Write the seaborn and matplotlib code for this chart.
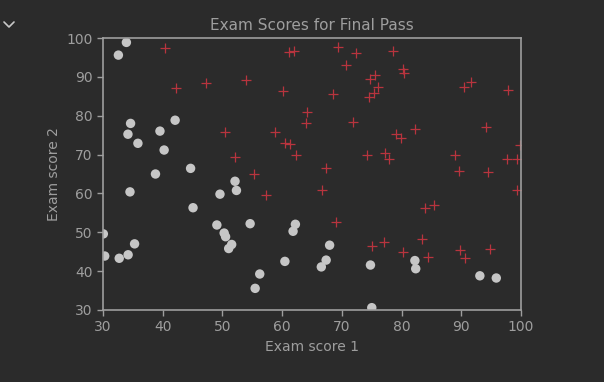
import matplotlib
matplotlib.use("Agg")
import matplotlib.pyplot as plt
import seaborn as sns
import pandas as pd
from matplotlib.lines import Line2D

# Admitted (plus markers)
admitted_x = [60.18, 79.03, 61.11, 75.02, 76.10, 84.43, 82.31, 69.36, 53.97, 69.07,
              70.66, 76.98, 89.68, 77.92, 62.27, 80.19, 61.38, 85.40, 52.05, 64.18,
              83.90, 94.44, 77.19, 97.77, 62.07, 91.56, 79.94, 99.27, 90.55, 97.65,
              74.25, 71.80, 75.40, 40.46, 80.28, 66.75, 64.04, 72.35, 60.46, 58.84,
              99.83, 47.26, 50.46, 88.91, 94.83, 67.32, 57.24, 80.37, 68.47, 75.48,
              78.64, 94.09, 90.45, 74.49, 89.85, 83.49, 42.26, 99.32, 55.34, 74.78]
admitted_y = [86.31, 75.34, 96.51, 46.55, 87.42, 43.53, 76.48, 97.72, 89.21, 52.74,
              92.93, 47.58, 65.80, 68.97, 69.95, 44.82, 72.81, 57.05, 69.43, 80.91,
              56.31, 65.57, 70.46, 86.73, 96.77, 88.70, 74.16, 61.00, 43.39, 68.86,
              69.82, 78.45, 85.76, 97.54, 92.12, 60.99, 78.03, 96.23, 73.09, 75.86,
              72.37, 88.48, 75.81, 69.80, 45.69, 66.59, 59.51, 90.96, 85.59, 90.42,
              96.65, 77.16, 87.51, 84.85, 45.36, 48.38, 87.10, 68.78, 64.93, 89.53]

# Not admitted (circle markers)
rejected_x = [34.62, 30.29, 35.85, 45.08, 95.86, 75.01, 39.54, 67.95, 67.37, 50.53,
              34.21, 93.11, 61.83, 38.79, 52.11, 40.24, 54.64, 33.92, 74.79, 34.18,
              51.55, 82.37, 51.05, 62.22, 34.52, 50.29, 49.59, 32.58, 35.29, 56.25,
              30.06, 44.67, 66.56, 49.07, 32.72, 60.46, 82.23, 42.08, 52.35, 55.48]
rejected_y = [78.02, 43.89, 72.90, 56.32, 38.23, 30.60, 76.04, 46.68, 42.84, 48.86,
              44.21, 38.80, 50.26, 65.00, 63.13, 71.17, 52.21, 98.87, 41.57, 75.24,
              46.86, 40.62, 45.82, 52.06, 60.40, 49.80, 59.81, 95.60, 47.02, 39.26,
              49.59, 66.45, 41.09, 51.88, 43.31, 42.51, 42.72, 78.84, 60.77, 35.57]

BG = "#2b2b2b"
FG = "#9e9e9e"

sns.set_style("dark", {"axes.facecolor": BG, "figure.facecolor": BG})
plt.rcParams.update({
    "font.family": ["DejaVu Sans"],
    "text.color": FG, "axes.labelcolor": FG,
    "xtick.color": FG, "ytick.color": FG,
    "axes.edgecolor": FG,
})

fig = plt.figure(figsize=(6.04, 3.82), dpi=100, facecolor=BG)
ax = fig.add_axes([0.1705, 0.1885, 0.8626 - 0.1705, 0.9005 - 0.1885])
ax.set_facecolor(BG)

df_a = pd.DataFrame({"x": admitted_x, "y": admitted_y})
df_r = pd.DataFrame({"x": rejected_x, "y": rejected_y})

sns.scatterplot(data=df_r, x="x", y="y", ax=ax, marker="o", s=46,
                color="#c6c6c6", edgecolor="none", linewidth=0)
sns.scatterplot(data=df_a, x="x", y="y", ax=ax, marker="+", s=42,
                color="#b8343e", linewidth=0.9)

ax.set_xlim(30, 100)
ax.set_ylim(30, 100)
ax.set_xticks(range(30, 101, 10))
ax.set_yticks(range(30, 101, 10))
ax.tick_params(axis="both", labelsize=10, length=4, width=1, colors=FG, direction="out",
               bottom=True, left=True)
for sp in ax.spines.values():
    sp.set_color(FG)
    sp.set_linewidth(1.2)
ax.set_xlabel("Exam score 1", fontsize=10, color=FG)
ax.set_ylabel("Exam score 2", fontsize=10, color=FG)
ax.set_title("Exam Scores for Final Pass", fontsize=11, color=FG, pad=6)

# small notebook chevron at top-left
fig.add_artist(Line2D([4 / 604, 9 / 604, 14 / 604],
                      [1 - 22 / 382, 1 - 27 / 382, 1 - 22 / 382],
                      transform=fig.transFigure, color="#c8c8c8", linewidth=1.2))

fig.savefig("out.png", dpi=100, facecolor=BG)
